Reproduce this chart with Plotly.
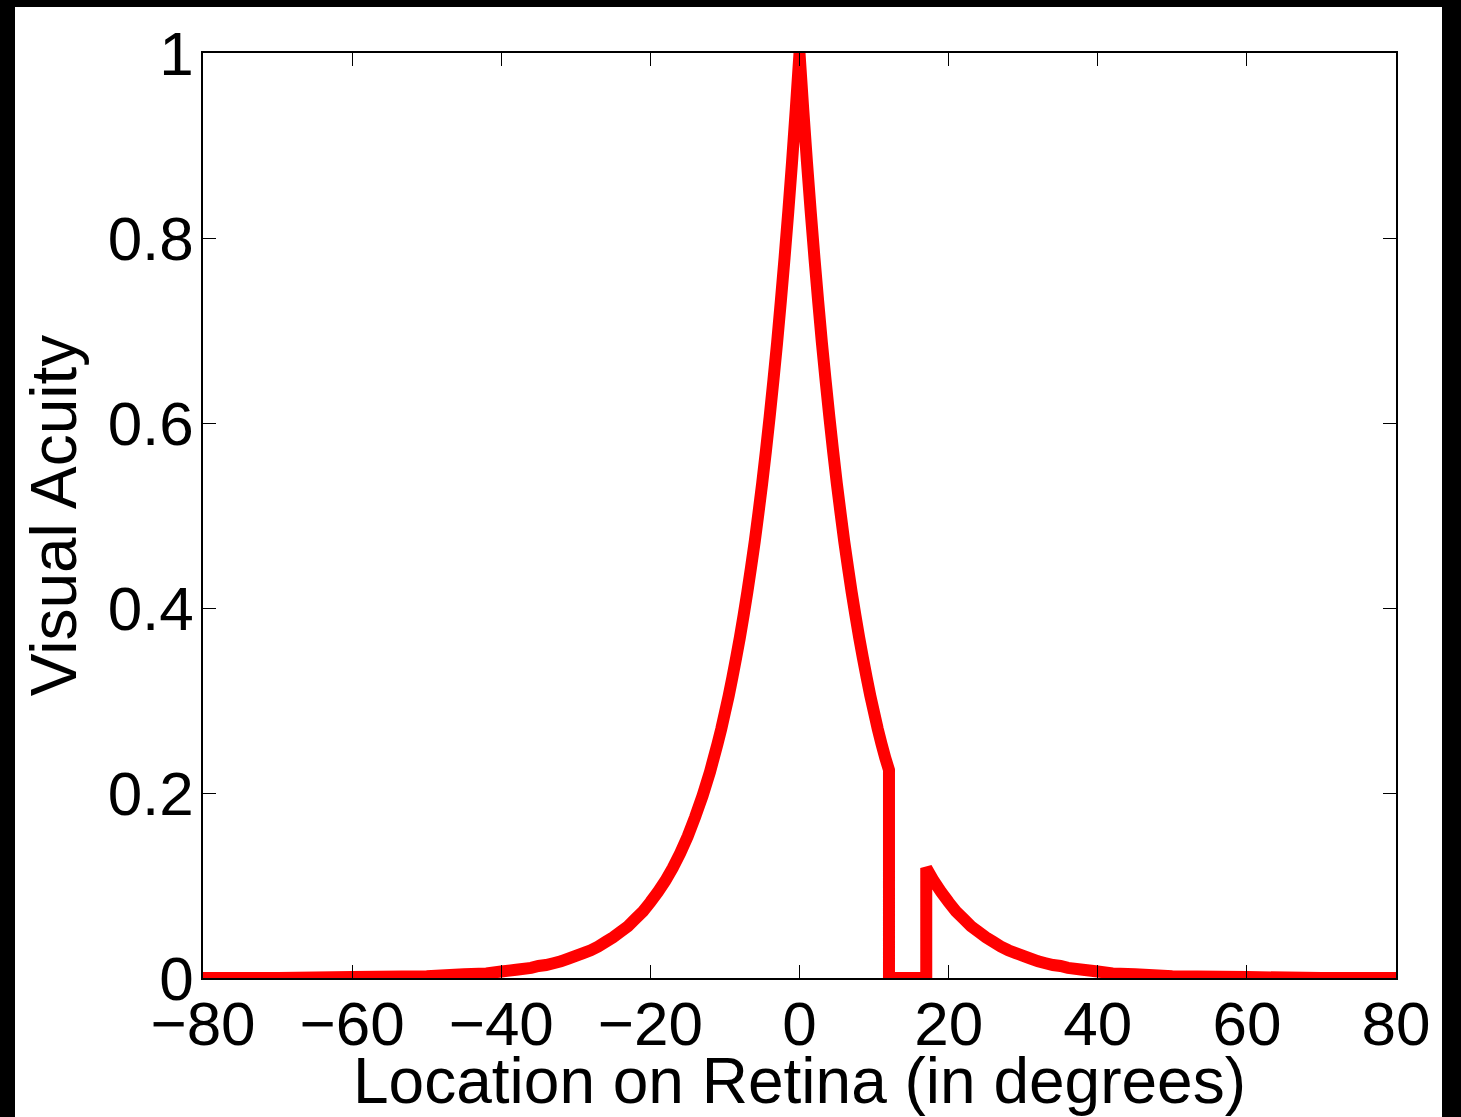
import plotly.graph_objects as go

# Location on retina (degrees) and visual acuity
location_deg = [-80, -70, -60, -50, -45, -42, -40, -38, -36, -35, -34, -33, -32, -31, -30,
                -29, -28, -27, -26, -25, -24, -23, -22, -21, -20,
                -19, -18, -17, -16, -15, -14, -13, -12, -11.5, -11, -10.5, -10, -9.5, -9,
                -8.5, -8, -7.5, -7, -6.5, -6, -5.5, -5, -4.5, -4, -3.5, -3, -2.5, -2,
                -1.5, -1, -0.5, 0, 0.5, 1, 1.5, 2, 2.5, 3, 3.5, 4, 4.5, 5, 5.5, 6,
                6.5, 7, 7.5, 8, 8.5, 9, 9.5, 10, 10.5, 11, 11.5, 12,
                12, 17,
                17, 17.5, 18, 19, 20, 21, 22, 23, 24, 25, 26, 27, 28, 29, 30, 31, 32,
                33, 34, 35, 36, 38, 40, 42, 45, 50, 60, 70, 80]
acuity = [0.0, 0.0, 0.001, 0.002, 0.004, 0.005, 0.007, 0.009, 0.011, 0.013, 0.014, 0.016, 0.018, 0.021, 0.024,
          0.027, 0.030, 0.034, 0.039, 0.044, 0.050, 0.056, 0.064, 0.072, 0.082,
          0.093, 0.105, 0.119, 0.135, 0.153, 0.174, 0.197, 0.223, 0.238, 0.253, 0.269, 0.287, 0.305, 0.325,
          0.346, 0.368, 0.392, 0.417, 0.444, 0.472, 0.503, 0.535, 0.570, 0.607, 0.646, 0.687, 0.732, 0.779,
          0.829, 0.882, 0.939, 1.0, 0.939, 0.882, 0.829, 0.779, 0.732, 0.687, 0.646, 0.607, 0.570, 0.535, 0.503, 0.472,
          0.444, 0.417, 0.392, 0.368, 0.346, 0.325, 0.305, 0.287, 0.269, 0.253, 0.238, 0.225,
          0.0, 0.0,
          0.119, 0.112, 0.105, 0.093, 0.082, 0.072, 0.064, 0.056, 0.050, 0.044, 0.039, 0.034, 0.030, 0.027, 0.024, 0.021, 0.018,
          0.016, 0.014, 0.013, 0.011, 0.009, 0.007, 0.005, 0.004, 0.002, 0.001, 0.0, 0.0]

x_ticks = [-80, -60, -40, -20, 0, 20, 40, 60, 80]
y_ticks = [0, 0.2, 0.4, 0.6, 0.8, 1]

font_family = "Liberation Sans, Arial, Helvetica, sans-serif"

fig = go.Figure()
fig.add_trace(go.Scatter(
    x=location_deg, y=acuity, mode="lines",
    line=dict(color="#ff0000", width=12, simplify=False),
    hoverinfo="skip", showlegend=False,
))

axis_common = dict(
    showgrid=False, zeroline=False,
    showline=True, linecolor="black", linewidth=1.5, mirror="ticks",
    ticks="inside", ticklen=13, tickwidth=1, tickcolor="black",
    tickfont=dict(family=font_family, size=62, color="black"),
)

fig.update_layout(
    width=1461, height=1117,
    paper_bgcolor="black", plot_bgcolor="white",
    margin=dict(l=203, r=65, t=53, b=139, autoexpand=False),
    font=dict(family=font_family, color="black"),
    xaxis=dict(range=[-80, 80], tickvals=x_ticks,
               title=dict(text="Location on Retina (in degrees)",
                          font=dict(family=font_family, size=64, color="black"),
                          standoff=8),
               **axis_common),
    yaxis=dict(range=[0, 1], tickvals=y_ticks,
               title=dict(text="Visual Acuity",
                          font=dict(family=font_family, size=64, color="black"),
                          standoff=10),
               **axis_common),
    shapes=[dict(type="rect", xref="paper", yref="paper", layer="below",
                 x0=(15-203)/1193, x1=(1442-203)/1193, y0=-139/925, y1=(1117-7-139)/925,
                 fillcolor="white", line=dict(width=0))],
)

try:
    fig.update_xaxes(ticklabelstandoff=-9)
except ValueError:
    fig.update_xaxes(ticklabelstandoff=0)
try:
    fig.update_yaxes(ticklabelstandoff=-5)
except ValueError:
    fig.update_yaxes(ticklabelstandoff=0)

fig.write_html(
    "out.html",
    config={"displayModeBar": False},
    post_script="document.body.style.margin='0';document.body.style.background='black';"
                "document.documentElement.style.overflow='hidden';",
)
